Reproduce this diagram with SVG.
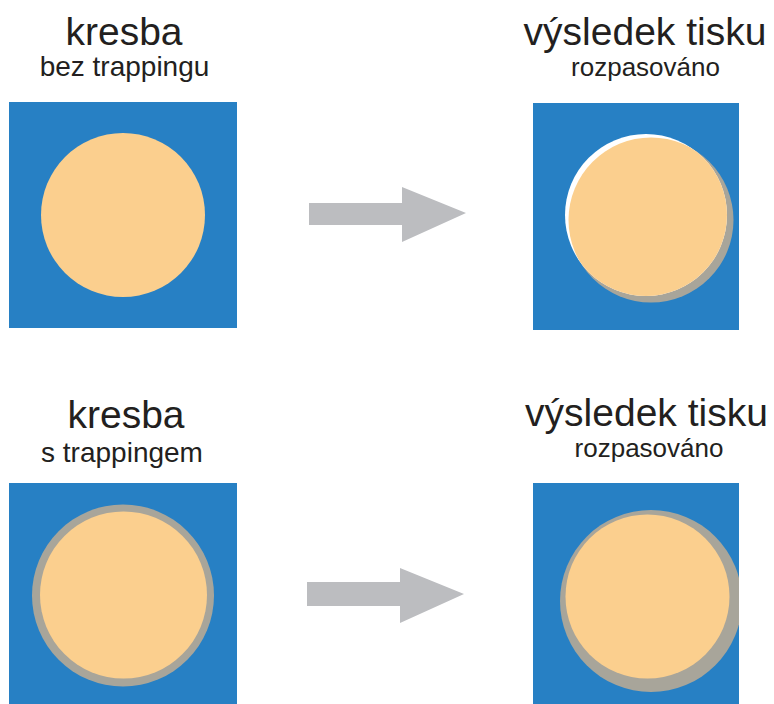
<svg xmlns="http://www.w3.org/2000/svg" width="774" height="704" viewBox="0 0 774 704">
<defs>
<style>
.t{font-family:"Liberation Sans",Arial,sans-serif;fill:#231f20;text-anchor:middle}
.big{font-size:39px}
.sm{font-size:28px}
.sm2{font-size:26px}
.sq{fill:#2780c4}
.or{fill:#fbcf8e}
.gr{fill:#a8a59a}
.ar{fill:#bcbdc0}
</style>
<clipPath id="clipTR"><circle cx="646" cy="215" r="81"/></clipPath>
<clipPath id="clipBR"><rect x="533" y="483" width="206" height="221"/></clipPath>
</defs>
<rect width="774" height="704" fill="#ffffff"/>

<g id="label-top-left">
<text class="t big" x="124" y="45">kresba</text>
<text class="t sm" x="124.5" y="76">bez trappingu</text>
</g>
<g id="label-top-right">
<text class="t big" x="645" y="45">výsledek tisku</text>
<text class="t sm2" x="645.5" y="76">rozpasováno</text>
</g>
<g id="label-bottom-left">
<text class="t big" x="126" y="428">kresba</text>
<text class="t sm" x="122" y="462">s trappingem</text>
</g>
<g id="label-bottom-right">
<text class="t big" x="646.5" y="426">výsledek tisku</text>
<text class="t sm2" x="649" y="457">rozpasováno</text>
</g>

<g id="node-top-left">
<rect class="sq" x="9" y="102" width="228" height="226"/>
<circle class="or" cx="123" cy="215" r="82"/>
</g>

<g id="node-top-right">
<rect class="sq" x="533" y="103" width="206" height="227"/>
<circle class="gr" cx="651" cy="220" r="82.5"/>
<circle fill="#ffffff" cx="646" cy="215" r="81"/>
<circle class="or" cx="651" cy="220" r="82.5" clip-path="url(#clipTR)"/>
</g>

<g id="node-bottom-left">
<rect class="sq" x="9" y="483" width="228" height="221"/>
<circle class="gr" cx="123" cy="595.5" r="91"/>
<circle class="or" cx="123.5" cy="595" r="83.5"/>
</g>

<g id="node-bottom-right">
<rect class="sq" x="533" y="483" width="206" height="221"/>
<circle class="gr" cx="651" cy="601" r="91" clip-path="url(#clipBR)"/>
<circle class="or" cx="647.5" cy="596.5" r="82"/>
</g>

<g id="connectors">
<polygon class="ar" points="309,203 402,203 402,187 466,213 402,242 402,225 309,225"/>
<polygon class="ar" points="307,582 400,582 400,568 464,594 400,623 400,606 307,606"/>
</g>
</svg>
